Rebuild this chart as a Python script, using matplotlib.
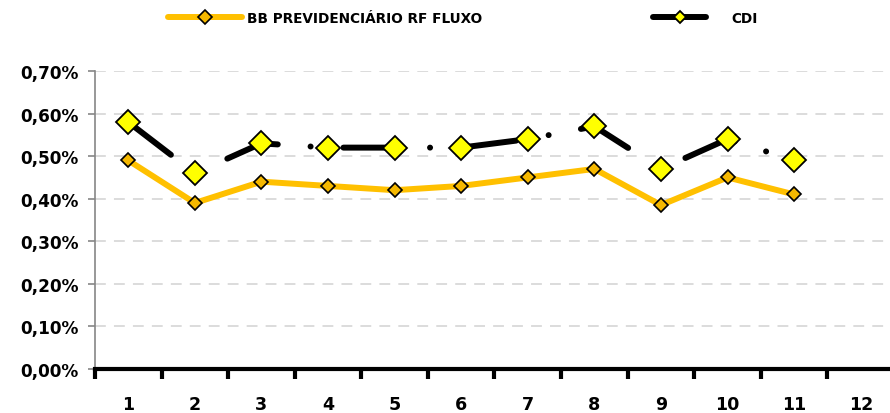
import matplotlib.pyplot as plt
from matplotlib.ticker import FuncFormatter, FixedLocator

# dados (% ao mês)
meses = [1, 2, 3, 4, 5, 6, 7, 8, 9, 10, 11]
bb_fluxo = [0.49, 0.39, 0.44, 0.43, 0.42, 0.43, 0.45, 0.47, 0.385, 0.45, 0.41]
cdi = [0.58, 0.46, 0.53, 0.52, 0.52, 0.52, 0.54, 0.57, 0.47, 0.54, 0.49]
x_labels = [str(i) for i in range(1, 13)]
y_ticks = [0.0, 0.1, 0.2, 0.3, 0.4, 0.5, 0.6, 0.7]

plt.rcParams['font.family'] = ['DejaVu Sans']
plt.rcParams['font.weight'] = 'bold'

fig = plt.figure(figsize=(8.9, 4.14), dpi=100)
ax = fig.add_axes([0.1067, 0.1063, 0.8978, 0.7198])

# linhas
l_bb, = ax.plot(meses, bb_fluxo, color='#FFC000', lw=4.3, solid_joinstyle='miter',
                solid_capstyle='round', marker='D', ms=7, mfc='#F5B800', mec='black',
                mew=1.2, label='BB PREVIDENCIÁRIO RF FLUXO', zorder=3)
l_cdi, = ax.plot(meses, cdi, color='black', lw=4.3, linestyle=(0, (9, 5.5, 0.01, 5.5)),
                 dash_capstyle='round', marker='D', ms=12, mfc='#FFFF00', mec='black',
                 mew=1.3, label='CDI', zorder=4)

# eixos
ax.set_xlim(0.5, 12.5)
ax.set_ylim(0, 0.7)
ax.set_yticks(y_ticks)
ax.yaxis.set_major_formatter(FuncFormatter(lambda v, _: ('%.2f%%' % v).replace('.', ',')))
ax.set_xticks(range(1, 13))
ax.set_xticklabels(x_labels)
ax.xaxis.set_minor_locator(FixedLocator([i + 0.5 for i in range(0, 13)]))

ax.grid(axis='y', color='#D9D9D9', lw=1.3, linestyle=(0, (6, 4.5)))
ax.set_axisbelow(True)

for s in ['top', 'right']:
    ax.spines[s].set_visible(False)
ax.spines['left'].set_color('#868686')
ax.spines['left'].set_linewidth(1.2)
ax.spines['bottom'].set_color('black')
ax.spines['bottom'].set_linewidth(3)
ax.spines['bottom'].set_zorder(5)

ax.tick_params(axis='y', colors='#868686', length=5, width=1.2, labelcolor='black',
               labelsize=12.2, pad=7)
ax.tick_params(axis='x', which='major', length=0, labelsize=12.6, pad=19)
ax.tick_params(axis='x', which='minor', length=7, width=3, color='black', direction='out')

# legenda (duas partes, como no original)
leg1 = fig.legend(handles=[l_bb], loc='center left', bbox_to_anchor=(0.1888, 0.954),
                  frameon=False, fontsize=9.8, handlelength=5.4, handletextpad=0.37,
                  borderpad=0, borderaxespad=0)
leg2 = fig.legend(handles=[l_cdi], loc='center left', bbox_to_anchor=(0.7337, 0.954),
                  frameon=False, fontsize=9.8, handlelength=3.9, handletextpad=1.84,
                  borderpad=0, borderaxespad=0, markerscale=0.55)

fig.savefig('out.png', dpi=100)
